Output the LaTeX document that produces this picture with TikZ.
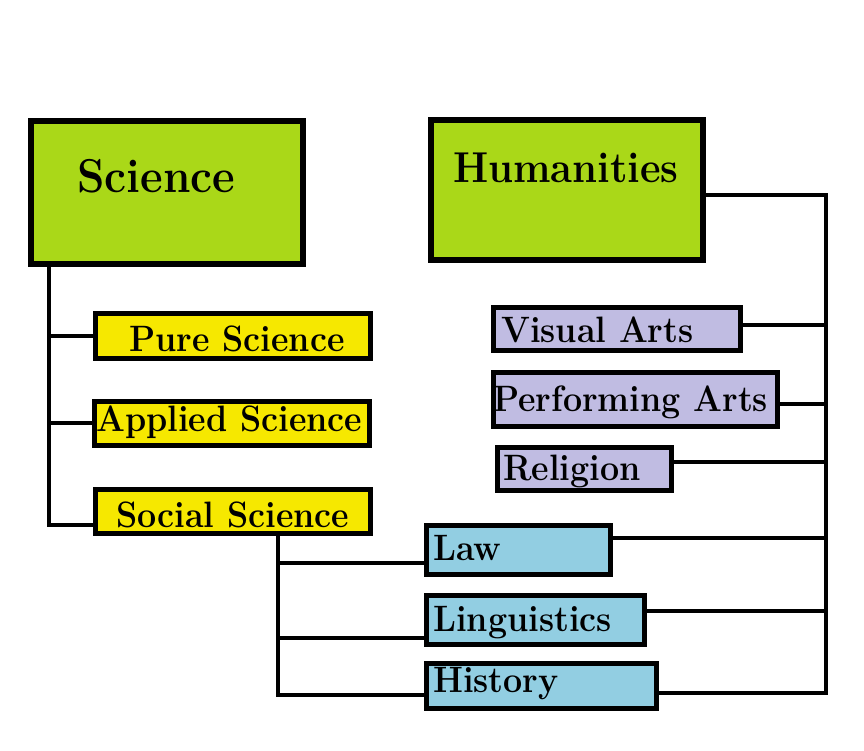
\documentclass[tikz,border=0pt]{standalone}
\usepackage{fontspec}
\usepackage{graphicx}
\definecolor{boxgreen}{RGB}{170,216,24}
\definecolor{boxyellow}{RGB}{246,232,0}
\definecolor{boxlav}{RGB}{192,188,226}
\definecolor{boxblue}{RGB}{146,206,226}
\newcommand{\tallish}[1]{\scalebox{1}[1.08]{#1}}
\begin{document}
\begin{tikzpicture}[x=1pt,y=-1pt,
  bigbox/.style={draw=black, line width=6pt, fill=boxgreen, inner sep=0pt},
  smallbox/.style={draw=black, line width=5pt, inner sep=0pt},
  ybox/.style={smallbox, fill=boxyellow},
  lbox/.style={smallbox, fill=boxlav},
  bbox/.style={smallbox, fill=boxblue},
  lbl/.style={anchor=base west, inner sep=0pt, font=\bfseries\fontsize{34}{40}\selectfont},
  biglbl/.style={anchor=base west, inner sep=0pt, font=\bfseries\fontsize{#1}{#1}\selectfont},
  conn/.style={line width=4pt, line join=miter}]
\useasboundingbox (0,0) rectangle (864,750);
\fill[white] (0,0) rectangle (864,750);

% coordinates of junctions
\coordinate (sciBot) at (49,525);
\coordinate (pureJ) at (49,336);
\coordinate (applJ) at (49,423);
\coordinate (socBot) at (278,695);
\coordinate (lawJ) at (278,563);
\coordinate (lingJ) at (278,638);
\coordinate (humJ) at (826,195);
\coordinate (histJ) at (826,693);
\coordinate (visJ) at (826,325);
\coordinate (perfJ) at (826,404);
\coordinate (relJ) at (826,462);
\coordinate (lawR) at (826,538);
\coordinate (lingR) at (826,611);

% boxes
\node[bigbox, minimum width=272pt, minimum height=143pt] (sci) at (167,192.5) {};
\node[bigbox, minimum width=272pt, minimum height=140pt] (hum) at (567,190) {};
\node[ybox, minimum width=275pt, minimum height=45pt] (pure) at (233,336) {};
\node[ybox, minimum width=275pt, minimum height=44pt] (appl) at (232,423.5) {};
\node[ybox, minimum width=275pt, minimum height=44pt] (soc) at (233,511.5) {};
\node[lbox, minimum width=247pt, minimum height=43pt] (vis) at (617,329) {};
\node[lbox, minimum width=284pt, minimum height=54pt] (perf) at (635.5,399.5) {};
\node[lbox, minimum width=174pt, minimum height=43pt] (rel) at (584.5,469) {};
\node[bbox, minimum width=184pt, minimum height=49pt] (law) at (518.5,550) {};
\node[bbox, minimum width=218pt, minimum height=49pt] (ling) at (535.5,620) {};
\node[bbox, minimum width=230pt, minimum height=45pt] (hist) at (541.5,686) {};

% connectors
\draw[conn] (sci.south -| sciBot) -- (sciBot) -- (sciBot -| soc.west);
\draw[conn] (pureJ) -- (pureJ -| pure.west);
\draw[conn] (applJ) -- (applJ -| appl.west);
\draw[conn] (soc.south -| socBot) -- (socBot) -- (socBot -| hist.west);
\draw[conn] (lawJ) -- (lawJ -| law.west);
\draw[conn] (lingJ) -- (lingJ -| ling.west);
\draw[conn] (humJ -| hum.east) -- (humJ) -- (histJ) -- (histJ -| hist.east);
\draw[conn] (visJ) -- (visJ -| vis.east);
\draw[conn] (perfJ) -- (perfJ -| perf.east);
\draw[conn] (relJ) -- (relJ -| rel.east);
\draw[conn] (lawR) -- (lawR -| law.east);
\draw[conn] (lingR) -- (lingR -| ling.east);

% texts
\node[biglbl=44] (sciT) at (77,192) {\tallish{Science}};
\node[biglbl=40] (humT) at (453,182) {\tallish{Humanities}};
\node[lbl] (pureT) at (129,351) {\tallish{Pure Science}};
\node[lbl] (applT) at (96,431) {\tallish{Applied Science}};
\node[lbl] (socT) at (116,527) {\tallish{Social Science}};
\node[lbl] (visT) at (501,342) {\tallish{Visual Arts}};
\node[lbl] (perfT) at (493,411) {\tallish{Performing Arts}};
\node[lbl] (relT) at (503,480) {\tallish{Religion}};
\node[lbl] (lawT) at (433,560) {\tallish{Law}};
\node[lbl] (lingT) at (433,631) {\tallish{Linguistics}};
\node[lbl] (histT) at (433,692) {\tallish{History}};
\end{tikzpicture}
\end{document}
